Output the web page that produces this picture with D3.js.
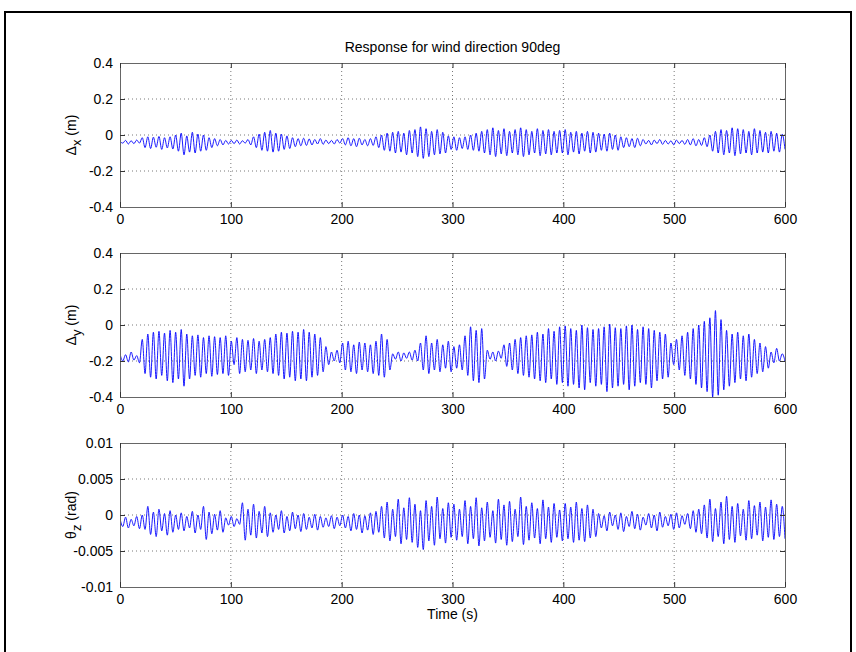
<!DOCTYPE html>
<html><head><meta charset="utf-8">
<script src="https://cdn.jsdelivr.net/npm/d3@7"></script>
<style>body{margin:0;background:#fff} text{font-family:Arial,"Liberation Sans",Helvetica,sans-serif;font-size:14px;fill:#000}</style>
</head><body><svg id="c" width="856" height="652"></svg>
<script>
// ---- data (peak / trough per oscillation cycle) ----
const xTicks = [0, 100, 200, 300, 400, 500, 600];
const dxPeaks = [-0.035,-0.03,-0.032,-0.028, -0.015,-0.01,-0.012,-0.008,-0.015,-0.01, 0.0,0.01,-0.005,0.015,0.005,0.0, -0.015,-0.02,-0.025,-0.03, -0.03,-0.028,-0.032,-0.025, -0.01,0.005,0.015,0.025,0.01,0.005,-0.005, -0.015,-0.02,-0.018,-0.022,-0.025,-0.02,-0.028,-0.03,-0.025, -0.02,-0.015,-0.02,-0.018,-0.025,-0.02, -0.01,0.0,0.01,0.015,0.02,0.01,0.025,0.03,0.045,0.035,0.02,0.03,0.015, -0.005,-0.01,-0.015,-0.01,0.0, 0.01,0.02,0.03,0.04,0.025,0.035,0.02,0.03,0.04,0.03,0.02,0.035,0.025,0.03,0.02, 0.025,0.03,0.015,0.02,0.01,0.02,0.015,0.01,0.005,0.01,0.0, -0.01,-0.015,-0.02,-0.018, -0.025,-0.03,-0.028,-0.025,-0.03,-0.032,-0.028,-0.03,-0.025,-0.02,-0.025,-0.015, 0.0,0.02,0.03,0.025,0.04,0.035,0.03,0.02,0.035,0.025,0.015,0.02,0.01,0.005];
const dxTroughs = [-0.045,-0.05,-0.048,-0.045, -0.07,-0.075,-0.068,-0.08,-0.072,-0.078, -0.09,-0.11,-0.095,-0.1,-0.09,-0.085, -0.07,-0.06,-0.055,-0.05, -0.048,-0.05,-0.045,-0.055, -0.07,-0.085,-0.09,-0.095,-0.09,-0.08,-0.075, -0.065,-0.06,-0.058,-0.055,-0.05,-0.052,-0.048,-0.05,-0.045, -0.055,-0.06,-0.065,-0.055,-0.06,-0.058, -0.07,-0.085,-0.09,-0.1,-0.095,-0.11,-0.1,-0.12,-0.13,-0.12,-0.11,-0.105,-0.1, -0.08,-0.085,-0.075,-0.08,-0.085, -0.09,-0.1,-0.11,-0.12,-0.105,-0.115,-0.1,-0.11,-0.12,-0.11,-0.1,-0.115,-0.105,-0.11,-0.1, -0.1,-0.11,-0.095,-0.105,-0.09,-0.1,-0.095,-0.085,-0.09,-0.08,-0.085, -0.07,-0.065,-0.07,-0.06, -0.05,-0.055,-0.048,-0.052,-0.05,-0.055,-0.048,-0.052,-0.055,-0.06,-0.058,-0.065, -0.09,-0.1,-0.11,-0.1,-0.115,-0.105,-0.1,-0.11,-0.1,-0.095,-0.1,-0.09,-0.095,-0.08];

const dyPeaks = [-0.16,-0.165,-0.15,-0.17, -0.08,-0.05,-0.04,-0.035,-0.045,-0.03,-0.04,-0.025, -0.05,-0.06,-0.055,-0.07,-0.06,-0.065,-0.07, -0.06,-0.09,-0.07, -0.08,-0.085,-0.075,-0.09,-0.08,-0.07, -0.05,-0.04,-0.045,-0.035,-0.04,-0.025,-0.04,-0.05,-0.07, -0.12,-0.15,-0.14, -0.1,-0.09,-0.11,-0.095,-0.1,-0.11,-0.09,-0.05,-0.08, -0.16,-0.15,-0.155,-0.15,-0.14, -0.1,-0.06,-0.1,-0.08,-0.11,-0.09,-0.12,-0.11, -0.06,-0.01,-0.03,-0.02, -0.14,-0.15,-0.145, -0.11,-0.1,-0.08,-0.07,-0.06,-0.055,-0.04,-0.05,-0.02,-0.035,-0.01, -0.005,-0.02,-0.03,0.0,-0.015,-0.025,-0.02,-0.01,0.005,-0.015,-0.02,-0.005,0.0,-0.025,-0.01,-0.02,-0.03,-0.04,-0.05, -0.1,-0.08, -0.06,-0.04,-0.02,0.0,0.02,0.04,0.08,0.03, -0.03,-0.05,-0.04,-0.06,-0.05,-0.08,-0.1,-0.12, -0.15,-0.13,-0.16];
const dyTroughs = [-0.2,-0.205,-0.195,-0.21, -0.27,-0.29,-0.3,-0.28,-0.31,-0.32,-0.3,-0.34, -0.3,-0.28,-0.29,-0.27,-0.285,-0.275,-0.27, -0.28,-0.22,-0.27, -0.26,-0.25,-0.27,-0.25,-0.26,-0.27, -0.28,-0.3,-0.29,-0.31,-0.3,-0.31,-0.29,-0.28,-0.26, -0.22,-0.2,-0.21, -0.25,-0.26,-0.27,-0.25,-0.26,-0.27,-0.28,-0.29,-0.25, -0.19,-0.2,-0.185,-0.195,-0.2, -0.25,-0.27,-0.25,-0.26,-0.24,-0.26,-0.24,-0.25, -0.28,-0.31,-0.32,-0.3, -0.19,-0.2,-0.185, -0.23,-0.25,-0.27,-0.28,-0.29,-0.3,-0.31,-0.32,-0.3,-0.33,-0.32, -0.34,-0.33,-0.35,-0.36,-0.32,-0.34,-0.33,-0.37,-0.35,-0.34,-0.33,-0.36,-0.34,-0.32,-0.33,-0.35,-0.31,-0.3,-0.29, -0.22,-0.25, -0.28,-0.3,-0.33,-0.35,-0.37,-0.4,-0.39,-0.36, -0.34,-0.32,-0.3,-0.31,-0.29,-0.27,-0.26,-0.24, -0.21,-0.2,-0.2];

const tzPeaks = [-0.0005,-0.0003,-0.0006,-0.0002,0.0, 0.0012,0.0004,0.0008,0.0002,0.0006,0.0, 0.0003,-0.0002,0.0005,0.0,0.0012,0.0004,0.0001,0.0006, -0.0004,-0.0002,-0.0005, 0.0017,0.0008,0.0015,0.0005,0.0012, 0.0003,0.0,0.0006,-0.0002,0.0004,0.0,0.0002,-0.0003,0.0001,-0.0002,-0.0004,-0.0001,-0.0003, 0.0,-0.0002,0.0002,0.0,-0.0001,0.0003,0.0005, 0.0012,0.0018,0.0008,0.0022,0.001,0.0024,0.0015,0.0006,0.002,0.0012,0.0025,0.0009,0.0017, 0.0015,0.0008,0.002,0.0012,0.0024,0.001,0.0018,0.0006,0.0022,0.0014,0.0019,0.0008,0.0025,0.0012,0.0017,0.0009,0.0021,0.0011,0.0016,0.0007, 0.0016,0.0011,0.0018,0.0009,0.0014,0.0008, 0.0002,-0.0001,0.0004,0.0,0.0003,-0.0002,0.0005,0.0001,-0.0003,0.0002,0.0,0.0004,-0.0002,0.0001,0.0003,-0.0001,0.0002,0.0006,0.0008, 0.0014,0.0022,0.0009,0.0018,0.0026,0.0012,0.0016,0.0008,0.002,0.0013,0.0018,0.0011,0.0021,0.0015,0.0012];
const tzTroughs = [-0.0016,-0.0018,-0.0015,-0.0019,-0.002, -0.0027,-0.003,-0.0022,-0.0028,-0.0024,-0.002, -0.0022,-0.0018,-0.0025,-0.002,-0.0034,-0.0026,-0.0021,-0.0024, -0.0014,-0.0016,-0.0013, -0.0035,-0.0028,-0.0032,-0.0025,-0.003, -0.0024,-0.002,-0.0025,-0.0022,-0.0019,-0.0023,-0.002,-0.0018,-0.0021,-0.0017,-0.0016,-0.0019,-0.0015, -0.0018,-0.0022,-0.002,-0.0025,-0.0021,-0.0027,-0.0024, -0.0032,-0.0036,-0.003,-0.004,-0.0034,-0.0038,-0.0045,-0.0048,-0.0036,-0.0042,-0.0033,-0.0039,-0.0031, -0.0035,-0.003,-0.004,-0.0033,-0.0043,-0.0036,-0.0031,-0.0039,-0.0034,-0.0042,-0.0037,-0.003,-0.0041,-0.0035,-0.0032,-0.004,-0.0033,-0.0038,-0.0031,-0.0036, -0.0033,-0.0038,-0.0035,-0.0037,-0.0032,-0.003, -0.0018,-0.0022,-0.0015,-0.002,-0.0023,-0.0016,-0.0019,-0.0021,-0.0014,-0.0018,-0.0022,-0.0017,-0.0015,-0.002,-0.0018,-0.0013,-0.0019,-0.0024,-0.0026, -0.0032,-0.0037,-0.003,-0.004,-0.0034,-0.0038,-0.0029,-0.0035,-0.0033,-0.0028,-0.0036,-0.0031,-0.0034,-0.003,-0.0033];

const posTicks = [-0.4, -0.2, 0, 0.2, 0.4];
const posTickLabels = ["-0.4", "-0.2", "0", "0.2", "0.4"];
const rotTicks = [-0.01, -0.005, 0, 0.005, 0.01];
const rotTickLabels = ["-0.01", "-0.005", "0", "0.005", "0.01"];

const titleText = "Response for wind direction 90deg";
const xLabelText = "Time (s)";

// ---- drawing ----
const svg = d3.select("#c");
const L = 120, R = 785, H = 144;
const tops = [63, 253, 443];
const FS = "14px";
const x = d3.scaleLinear().domain([0, 600]).range([L, R]);

// figure frame
svg.append("path").attr("d", `M5,660 V12 H851 V660`).attr("fill", "none").attr("stroke", "#000").attr("stroke-width", 2);

function series(peaks, troughs) {
  const vals = [];
  peaks.forEach((p, i) => { vals.push(p); vals.push(troughs[i]); });
  const n = vals.length;
  return vals.map((v, i) => ({ t: i * 600 / (n - 1), v }));
}

const panels = [
  { data: series(dxPeaks, dxTroughs), dom: [-0.4, 0.4], ticks: posTicks, labels: posTickLabels, lab: ["\u0394", "x", " (m)"] },
  { data: series(dyPeaks, dyTroughs), dom: [-0.4, 0.4], ticks: posTicks, labels: posTickLabels, lab: ["\u0394", "y", " (m)"] },
  { data: series(tzPeaks, tzTroughs), dom: [-0.01, 0.01], ticks: rotTicks, labels: rotTickLabels, lab: ["\u03b8", "z", " (rad)"] }
];

panels.forEach((p, k) => {
  const top = tops[k], bot = top + H;
  const y = d3.scaleLinear().domain(p.dom).range([bot, top]);
  const g = svg.append("g");
  // grid
  xTicks.slice(1, -1).forEach(t => g.append("line").attr("x1", x(t)).attr("x2", x(t)).attr("y1", top).attr("y2", bot)
    .attr("stroke", "#555").attr("stroke-width", 0.8).attr("stroke-dasharray", "1,3"));
  p.ticks.slice(1, -1).forEach(t => g.append("line").attr("x1", L).attr("x2", R).attr("y1", y(t)).attr("y2", y(t))
    .attr("stroke", "#555").attr("stroke-width", 0.8).attr("stroke-dasharray", "1,3"));
  // line
  const clipId = "clip" + k;
  svg.append("clipPath").attr("id", clipId).append("rect").attr("x", L).attr("y", top).attr("width", R - L).attr("height", H);
  g.append("path").datum(p.data).attr("clip-path", `url(#${clipId})`)
    .attr("d", d3.line().x(d => x(d.t)).y(d => y(d.v)).curve(d3.curveMonotoneX))
    .attr("fill", "none").attr("stroke", "#0000ff").attr("stroke-width", 0.9);
  // axes
  const yAxL = d3.axisLeft(y).tickValues(p.ticks).tickFormat((d, i) => p.labels[i]).tickSizeInner(-5).tickSizeOuter(0).tickPadding(7);
  const yAxR = d3.axisRight(y).tickValues(p.ticks).tickFormat("").tickSizeInner(-5).tickSizeOuter(0);
  const xAxB = d3.axisBottom(x).tickValues(xTicks).tickSizeInner(-5).tickSizeOuter(0).tickPadding(7);
  const xAxT = d3.axisTop(x).tickValues(xTicks).tickFormat("").tickSizeInner(-5).tickSizeOuter(0);
  [[yAxL, `translate(${L},0)`], [yAxR, `translate(${R},0)`], [xAxB, `translate(0,${bot})`], [xAxT, `translate(0,${top})`]].forEach(([ax, tr]) => {
    const a = g.append("g").attr("transform", tr).call(ax);
    a.selectAll("path").attr("stroke", "#666");
    a.selectAll("line").attr("stroke", "#333");
    a.selectAll("text").style("font-size", FS).attr("fill", "#000").style("font-family", "Arial, 'Liberation Sans', sans-serif");
  });
  // y label
  const cy = (top + bot) / 2;
  const t = svg.append("text").attr("transform", `translate(76,${cy}) rotate(-90)`).attr("text-anchor", "middle");
  t.append("tspan").text(p.lab[0]);
  t.append("tspan").text(p.lab[1]).attr("dy", 5).style("font-size", "13px");
  t.append("tspan").text(p.lab[2]).attr("dy", -5);
});

svg.append("text").attr("x", (L + R) / 2).attr("y", 52).attr("text-anchor", "middle").style("font-size", "14px").text(titleText);
svg.append("text").attr("x", (L + R) / 2).attr("y", 619).attr("text-anchor", "middle").text(xLabelText);
</script></body></html>
